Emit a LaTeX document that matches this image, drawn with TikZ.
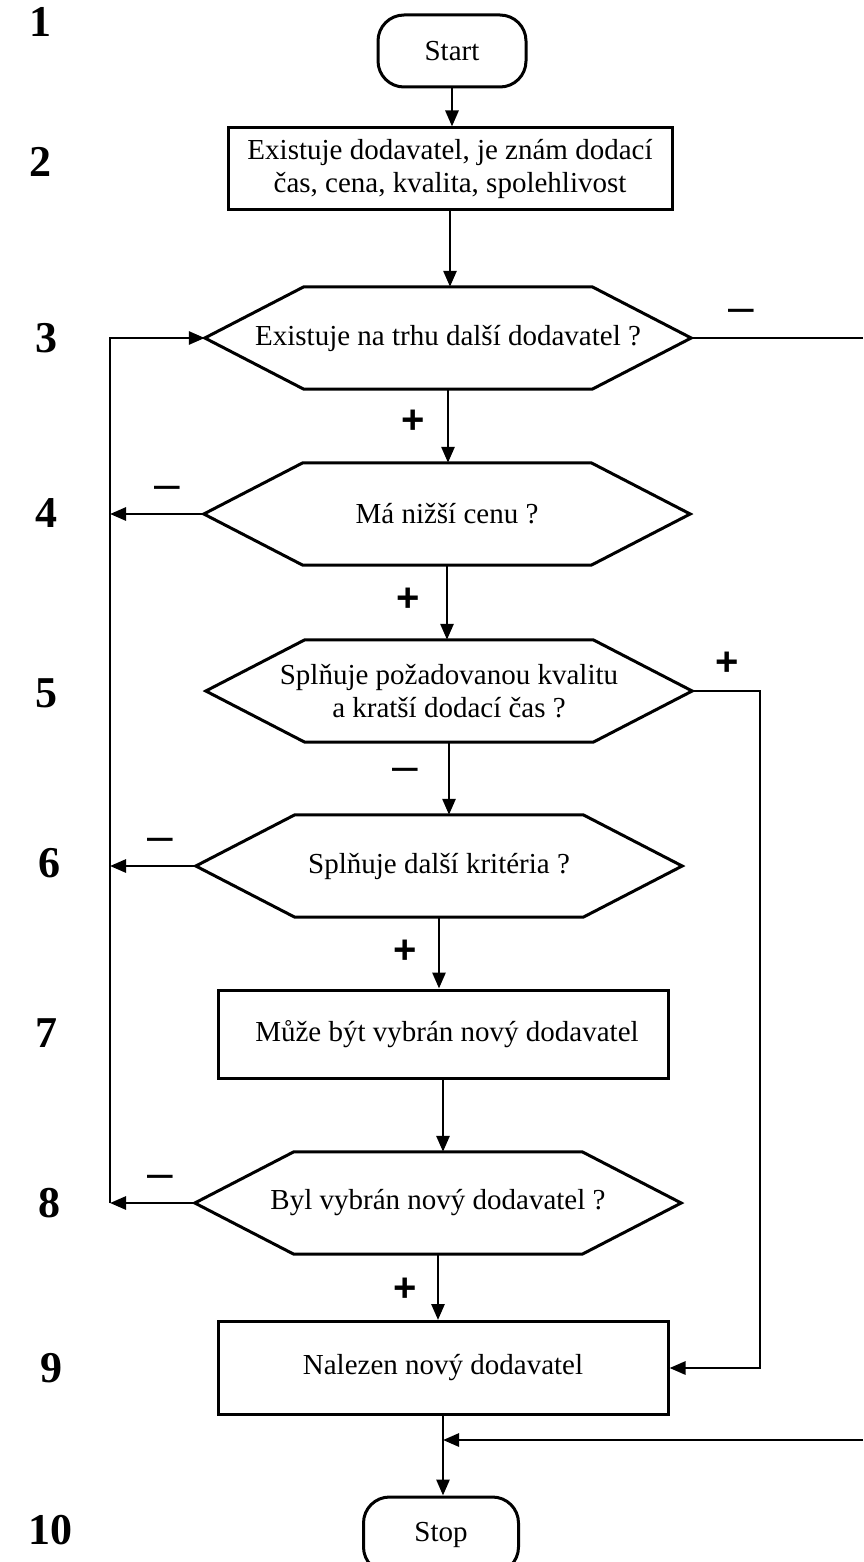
\documentclass[tikz,border=0pt]{standalone}
\usepackage{fontspec}
\setmainfont{Liberation Serif}
\newfontfamily\signfont{Liberation Sans}
\usetikzlibrary{positioning,arrows.meta}

\tikzset{
	box/.style={draw, line width=3pt, minimum width=450pt, minimum height=88pt, align=center, font=\fontsize{29}{33}\selectfont},
	term/.style={draw, line width=3pt, rounded corners=26pt, minimum width=148pt, minimum height=72pt, font=\fontsize{29}{33}\selectfont},
	hexa/.style={minimum width=486pt, minimum height=102pt, inner sep=0pt, align=center, font=\fontsize{29}{33}\selectfont,
		append after command={\pgfextra{\draw[line width=3pt] (\tikzlastnode.west) -- ([xshift=99pt]\tikzlastnode.north west) -- ([xshift=-99pt]\tikzlastnode.north east) -- (\tikzlastnode.east) -- ([xshift=-99pt]\tikzlastnode.south east) -- ([xshift=99pt]\tikzlastnode.south west) -- cycle;}}},
	arr/.style={line width=2.8pt, -{Triangle[length=16pt,width=13pt]}},
	ln/.style={line width=2.8pt},
	plus/.style={font=\signfont\bfseries\fontsize{40}{40}\selectfont},
	minus/.style={font=\signfont\fontsize{46}{46}\selectfont},
	num/.style={font=\bfseries\fontsize{44}{44}\selectfont}
}

\begin{document}
\begin{tikzpicture}[x=1pt, y=-1pt]
	\useasboundingbox (0,0) rectangle (863,1562);

	\node[term] (start) at (452,51) {Start};
	\node[box, minimum width=444pt, minimum height=82pt] (supp) at (450,169) {Existuje dodavatel, je znám dodací\\čas, cena, kvalita, spolehlivost};
	\node[hexa] (market) at (448,338) {Existuje na trhu další dodavatel ?};
	\node[hexa] (price) at (447,514) {Má nižší cenu ?};
	\node[hexa] (quality) at (449,691) {Splňuje požadovanou kvalitu\\a kratší dodací čas ?};
	\node[hexa] (criteria) at (439,866) {Splňuje další kritéria ?};
	\node[box] (canpick) at (443,1034) {\hspace*{8pt}Může být vybrán nový dodavatel};
	\node[hexa] (picked) at (438,1203) {Byl vybrán nový dodavatel ?};
	\node[box, minimum height=93pt] (found) at (443,1368) {Nalezen nový dodavatel};
	\node[term, minimum width=155pt, minimum height=76pt] (stop) at (441,1535) {Stop};

	% row numbers
	\foreach \n/\x/\y in {1/40/22, 2/40/162, 3/46/338, 4/46/513, 5/46/693, 6/49/863, 7/46/1033, 8/49/1203, 9/51/1368, 10/50/1530}
		\node[num] (n\n) at (\x,\y) {\n};

	\coordinate (loop) at (110,1203);
	\coordinate (edgetop) at (863,338);
	\coordinate (edgebot) at (863,1440);
	\coordinate (rline) at (760,1368);
	\coordinate (join) at (443,1440);

	\draw[arr] (start.south) -- (start.south |- supp.north);
	\draw[arr] (supp.south) -- (supp.south |- market.north);
	\draw[arr] (market.south) -- (market.south |- price.north);
	\draw[arr] (price.south) -- (price.south |- quality.north);
	\draw[arr] (quality.south) -- (quality.south |- criteria.north);
	\draw[arr] (criteria.south) -- (criteria.south |- canpick.north);
	\draw[arr] (canpick.south) -- (canpick.south |- picked.north);
	\draw[arr] (picked.south) -- (picked.south |- found.north);
	\draw[arr] (found.south) -- (found.south |- stop.north);

	\draw[arr] (picked.west) -- (loop);
	\draw[arr] (loop) |- (market.west);
	\draw[arr] (price.west) -- (price.west -| loop);
	\draw[arr] (criteria.west) -- (criteria.west -| loop);

	\draw[ln] (market.east) -- (edgetop);
	\draw[arr] (edgebot) -- (join);
	\draw[arr] (quality.east) -| (rline) -- (found.east);

	\node[minus] (m3) at (741,316) {–};
	\node[plus] (p34) at (413,422) {+};
	\node[minus] (m4) at (167,493) {–};
	\node[plus] (p45) at (408,600) {+};
	\node[plus] (p5) at (727,664) {+};
	\node[minus] (m56) at (405,775) {–};
	\node[minus] (m6) at (160,845) {–};
	\node[plus] (p67) at (405,952) {+};
	\node[minus] (m8) at (160,1182) {–};
	\node[plus] (p89) at (405,1290) {+};
\end{tikzpicture}
\end{document}
